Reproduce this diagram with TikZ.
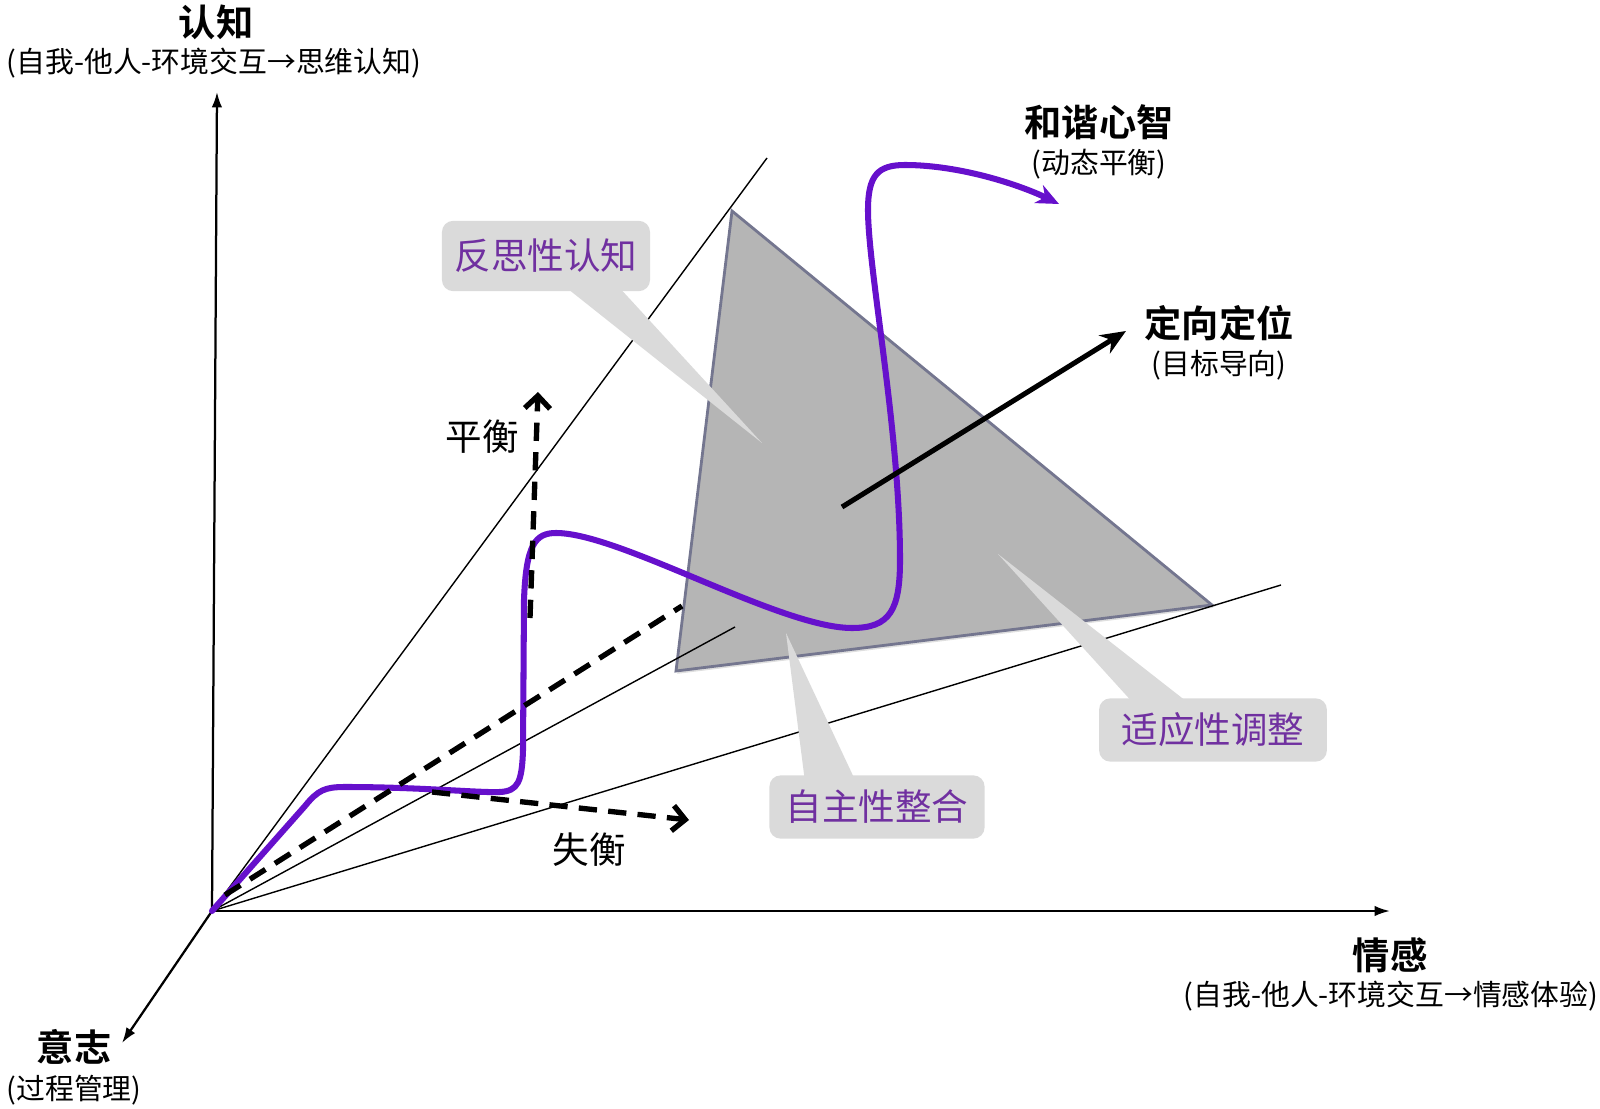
\documentclass[tikz,border=0pt]{standalone}
\usepackage{fontspec}
\setmainfont{Noto Sans CJK SC}[BoldFont={Noto Sans CJK SC Bold}]
\usepackage{xcolor}
\usepackage{tikz}
\usetikzlibrary{arrows.meta,calc,shadows}

\definecolor{curvepurple}{HTML}{6610CC}
\definecolor{labelpurple}{HTML}{7030A0}
\definecolor{planegray}{HTML}{B5B5B5}
\definecolor{planeedge}{HTML}{74768F}
\definecolor{bubblegray}{HTML}{DADADA}

\begin{document}
\begin{tikzpicture}[x=0.025cm,y=-0.025cm,
    axis/.style={line width=1.6pt,-{Latex[length=11pt,width=7.5pt]}},
    ray/.style={line width=1pt},
    dashln/.style={line width=3.8pt,dash pattern=on 13pt off 8pt},
    dasharr/.style={dashln,-{Straight Barb[length=9pt,width=18pt]}},
    flow/.style={curvepurple,line width=4.3pt,line cap=round,-{Stealth[length=16pt,width=14pt,inset=5pt]}},
    goal/.style={line width=3.6pt,-{Stealth[length=18pt,width=15pt]}},
    title/.style={font=\bfseries\fontsize{26.5}{30}\selectfont},
    sub/.style={font=\fontsize{20.5}{24}\selectfont},
    plain/.style={font=\fontsize{26}{30}\selectfont},
    bubble/.style={fill=bubblegray,rounded corners=8pt,text=labelpurple,font=\fontsize{26}{30}\selectfont,minimum height=45pt}]

\useasboundingbox (0,0) rectangle (1600,1109);

\coordinate (O) at (212,911);
\coordinate (cogEnd) at (217,92);
\coordinate (emoEnd) at (1390,911);
\coordinate (wilEnd) at (122,1043);
\coordinate (ray1) at (767,158);
\coordinate (ray2) at (735,627);
\coordinate (ray3) at (1281,585);
\coordinate (tA) at (732,211);
\coordinate (tB) at (676,671);
\coordinate (tC) at (1212,605);

\fill[planegray,draw=planeedge,line width=2pt,drop shadow={opacity=0.25,shadow xshift=1pt,shadow yshift=-2pt}] (tA) -- (tB) -- (tC) -- cycle;

\foreach \r in {ray1,ray2,ray3}
    \draw[ray] (O) -- (\r);

\draw[axis] (O) -- (cogEnd);
\draw[axis] (O) -- (emoEnd);
\draw[axis] (O) -- (wilEnd);

\coordinate (midS) at (225,895);
\coordinate (midE) at (682,606);
\coordinate (harmTip) at (1059,204);
\draw[flow] (O) -- (305,806) .. controls (318,790) and (325,787) .. (345,787) .. controls (420,787) and (480,793) .. (500,792) .. controls (518,791) and (522,782) .. (523,750) -- (524,600) .. controls (526,545) and (535,533) .. (556,533) .. controls (620,533) and (780,628) .. (852,628) .. controls (890,628) and (900,610) .. (900,560) .. controls (900,430) and (868,270) .. (868,210) .. controls (868,175) and (878,165) .. (905,165) .. controls (960,165) and (1020,185) .. (harmTip);

\draw[dashln] (midS) -- (midE);
\coordinate (balS) at (530,618);
\coordinate (balE) at (538,392);
\coordinate (imbS) at (432,792);
\coordinate (imbE) at (689,820);
\draw[dasharr] (balS) -- (balE);
\draw[dasharr] (imbS) -- (imbE);

\coordinate (goalS) at (842,507);
\coordinate (goalE) at (1126,331);
\draw[goal] (goalS) -- (goalE);

\node[title] (cogT) at (216,22) {认知};
\node[sub] (cogS) at (214,63) {(自我-他人-环境交互→思维认知)};
\node[title] (emoT) at (1390,955) {情感};
\node[sub] (emoS) at (1391,996) {(自我-他人-环境交互→情感体验)};
\node[title] (wilT) at (74,1047) {意志};
\node[sub] (wilS) at (74,1090) {(过程管理)};
\node[title] (harT) at (1099,122) {和谐心智};
\node[sub] (harS) at (1099,164) {(动态平衡)};
\node[title] (oriT) at (1219,323) {定向定位};
\node[sub] (oriS) at (1219,365) {(目标导向)};
\node[plain] (balT) at (482,437) {平衡};
\node[plain] (imbT) at (589,850) {失衡};

\coordinate (reflect1) at (563,285);
\coordinate (reflect2) at (617,285);
\coordinate (reflectTip) at (762,443);
\coordinate (selfint1) at (805,782);
\coordinate (selfint2) at (856,782);
\coordinate (selfintTip) at (786,633);
\coordinate (adjust1) at (1135,705);
\coordinate (adjust2) at (1191,705);
\coordinate (adjustTip) at (998,554);
\foreach \p in {reflect,selfint,adjust}
    \fill[bubblegray] (\p1) -- (\p Tip) -- (\p2) -- cycle;

\node[bubble,minimum width=148pt,minimum height=50pt] (reflect) at (546,256) {反思性认知};
\node[bubble,minimum width=153pt] (selfint) at (877,807) {自主性整合};
\node[bubble,minimum width=162pt] (adjust) at (1213,730) {适应性调整};

\end{tikzpicture}
\end{document}
